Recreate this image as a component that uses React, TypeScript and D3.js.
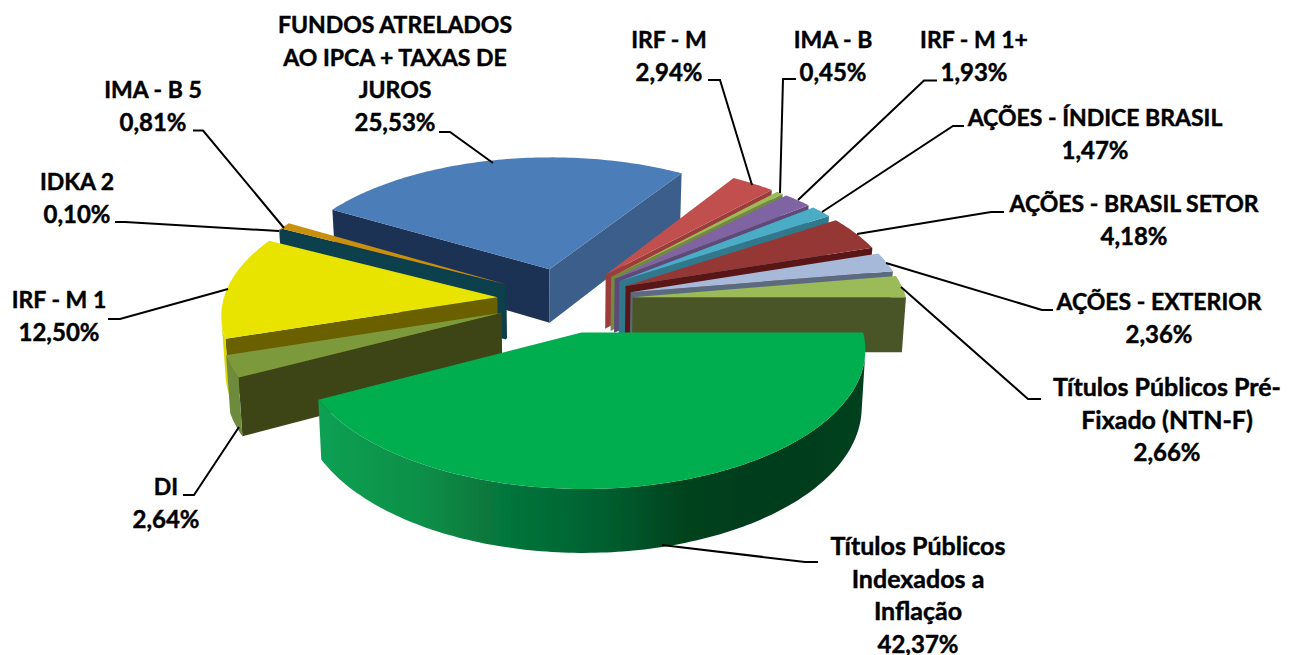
import React from "react";
import * as d3 from "d3";

// ---- data, in drawing order of the pie (clockwise from 3 o'clock) ----
const categories = [
  "Títulos Públicos Indexados a Inflação", "DI", "IRF - M 1", "IDKA 2", "IMA - B 5",
  "FUNDOS ATRELADOS AO IPCA + TAXAS DE JUROS", "IRF - M", "IMA - B", "IRF - M 1+",
  "AÇÕES - ÍNDICE BRASIL", "AÇÕES - BRASIL SETOR", "AÇÕES - EXTERIOR", "Títulos Públicos Pré-Fixado (NTN-F)",
];
const values = [42.37, 2.64, 12.5, 0.1, 0.81, 25.53, 2.94, 0.45, 1.93, 1.47, 4.18, 2.36, 2.66];
const labelLines = [
  ["Títulos Públicos", "Indexados a", "Inflação"], ["DI"], ["IRF - M 1"], ["IDKA 2"], ["IMA - B 5"],
  ["FUNDOS ATRELADOS", "AO IPCA + TAXAS DE", "JUROS"], ["IRF - M"], ["IMA - B"], ["IRF - M 1+"],
  ["AÇÕES - ÍNDICE BRASIL"], ["AÇÕES - BRASIL SETOR"], ["AÇÕES - EXTERIOR"], ["Títulos Públicos Pré-", "Fixado (NTN-F)"],
];
const topColors = ["#00ad50", "#7b9a3a", "#e8e400", "#0f3f4d", "#c8900f", "#4c7db8", "#c0504d", "#9bbb59", "#8064a2", "#4bacc6", "#953735", "#a7b9d9", "#9bbb59"];
const startFaceColors = ["#0b9d50", "#3c4518", "#6b6000", "#0f3f4d", "#0f3f4d", "#1f3354", "#8e3a38", "#6f8a40", "#5f4a7a", "#31788c", "#5a1716", "#5c6a80", "#4a5526"];
const endFaceColors = ["#0b9d50", "#3c4518", "#6b6000", "#0f3f4d", "#0f3f4d", "#3b5f8a", "#9c3d3a", "#6f8a40", "#5f4a7a", "#31788c", "#5a1716", "#5c6a80", "#4a5526"];
const outerColors = ["url(#greenSide)", "#6e8a3c", "#dcd800", "#0f3f4d", "#0f3f4d", "#3b5f8a", "#8e3a38", "#6f8a40", "#5f4a7a", "#31788c", "#5a1716", "#5c6a80", "#4a5526"];
const greenStops: [number, string][] = [[322, "#0ba053"], [420, "#0a9048"], [480, "#077a3e"], [560, "#056a35"], [620, "#045a2c"], [677, "#02441f"], [760, "#013c1d"], [865, "#01401f"]];

// ---- layout ----
const W = 1292, H = 655;
const CX = 565, CY = 300, R = 274, EXPLODE = 68, TILT = 0.478, PERSP = 0.000411, DEPTH = 55, BASE_SHRINK = 0.988;
const LINE_H = 32.7;
const SIZE_CAPS = 23, SIZE_MIXED = 25, SIZE_PCT = 24;
// [centre x, first baseline] per label, page coordinates
const labelAnchor: [number, number][] = [
  [918, 555], [166, 495], [59, 308], [77, 190], [153, 98], [395, 33], [669, 48], [833, 48], [974, 48], [1095, 126], [1134, 212], [1159, 310], [1167, 396],
];
const leaders: [number, number][][] = [
  [[818, 562], [805, 562], [662, 545]],
  [[183, 495], [194, 495], [239, 427]],
  [[108, 319], [120, 319], [228, 289]],
  [[115, 222], [125, 222], [279, 231]],
  [[193, 130.5], [203, 130.5], [284, 228]],
  [[439, 132], [450, 132], [493, 163]],
  [[708, 80], [720, 80], [752, 185]],
  [[796, 79], [783, 79], [780, 193]],
  [[937, 80.5], [924, 80.5], [798, 200]],
  [[964, 126], [953, 126], [822, 212]],
  [[1004, 212], [991, 212], [857, 234]],
  [[1053, 310], [1042, 310], [886, 263]],
  [[1041, 399], [1028, 399], [901, 287]],
];

type P = [number, number];
const project = (E: number, N: number, base: boolean): P => {
  const s = 1 / (1 + PERSP * N);
  return [CX + E * s * (base ? BASE_SHRINK : 1), CY - TILT * N * s + (base ? DEPTH * s : 0)];
};
const area = (pts: P[]) => d3.polygonArea(pts); // d3: positive = counter-clockwise on screen
const closed = d3.line<P>().curve(d3.curveLinearClosed);

const arcs = d3.pie<number>().sort(null).startAngle(Math.PI / 2).endAngle(Math.PI / 2 + 2 * Math.PI)(values);

const slices = arcs.map((a, i) => {
  const mid = (a.startAngle + a.endAngle) / 2;
  const ox = EXPLODE * Math.sin(mid), oy = EXPLODE * Math.cos(mid);
  const at = (t: number, r: number, base: boolean) => project(ox + r * Math.sin(t), oy + r * Math.cos(t), base);
  const steps = Math.max(3, Math.ceil(((a.endAngle - a.startAngle) * 180) / Math.PI));
  const ts = d3.range(steps + 1).map((k) => a.startAngle + ((a.endAngle - a.startAngle) * k) / steps);

  const top: P[] = [at(0, 0, false), ...ts.map((t) => at(t, R, false))];
  const startFace: P[] = [at(0, 0, false), at(a.startAngle, R, false), at(a.startAngle, R, true), at(0, 0, true)];
  const endFace: P[] = [at(0, 0, false), at(a.endAngle, R, false), at(a.endAngle, R, true), at(0, 0, true)];
  const showStart = area(startFace) > 0;
  const showEnd = area(endFace) < 0;
  // outer wall: keep only the part that faces the viewer
  const fronts = ts.filter((t) => {
    const q: P[] = [at(t, R, false), at(t + 0.01, R, false), at(t + 0.01, R, true), at(t, R, true)];
    return area(q) > 0;
  });
  const outer: P[] | null = fronts.length > 1
    ? [...fronts.map((t) => at(t, R, false)), ...fronts.slice().reverse().map((t) => at(t, R, true))]
    : null;
  return { i, order: Math.cos(mid), top, startFace, endFace, showStart, showEnd, outer };
});
const painted = slices.slice().sort((a, b) => b.order - a.order);

const pct = (v: number) => v.toFixed(2).replace(".", ",") + "%";
const leaderPath = d3.line<[number, number]>();
const lineSize = (t: string) => (/[a-zà-ÿ]{3}/.test(t) ? SIZE_MIXED : SIZE_CAPS);

export default function App() {
  return (
    <svg width={W} height={H} style={{ position: "absolute", left: 0, top: 0, display: "block" }} role="img" aria-label={categories.join(", ")}>
      <defs>
        <linearGradient id="greenSide" gradientUnits="userSpaceOnUse" x1={greenStops[0][0]} x2={greenStops[greenStops.length - 1][0]} y1={0} y2={0}>
          {greenStops.map(([x, c]) => (
            <stop key={x} offset={(x - greenStops[0][0]) / (greenStops[greenStops.length - 1][0] - greenStops[0][0])} stopColor={c} />
          ))}
        </linearGradient>
        <filter id="soft" x="-5%" y="-5%" width="110%" height="110%">
          <feGaussianBlur stdDeviation="0.45" />
        </filter>
      </defs>
      <g filter="url(#soft)">
        {painted.map((s) => (
          <g key={s.i}>
            {s.showStart && <path d={closed(s.startFace)!} fill={startFaceColors[s.i]} />}
            {s.showEnd && <path d={closed(s.endFace)!} fill={endFaceColors[s.i]} />}
            {s.outer && <path d={closed(s.outer)!} fill={outerColors[s.i]} />}
            <path d={closed(s.top)!} fill={topColors[s.i]} />
          </g>
        ))}
      </g>
      <g fill="none" stroke="#000" strokeWidth={2}>
        {leaders.map((l, i) => <path key={i} d={leaderPath(l)!} />)}
      </g>
      <g fontFamily="Lato, 'Open Sans', sans-serif" fontWeight={700} fill="#000" stroke="#000" strokeWidth={0.45} textAnchor="middle">
        {labelLines.map((lines, i) => {
          const [x, y] = labelAnchor[i];
          return (
            <text key={i} x={x}>
              {lines.map((t, k) => (
                <tspan key={k} x={x} y={y + k * LINE_H} fontSize={lineSize(t)}>{t}</tspan>
              ))}
              <tspan x={x} y={y + lines.length * LINE_H} fontSize={SIZE_PCT}>{pct(values[i])}</tspan>
            </text>
          );
        })}
      </g>
    </svg>
  );
}
